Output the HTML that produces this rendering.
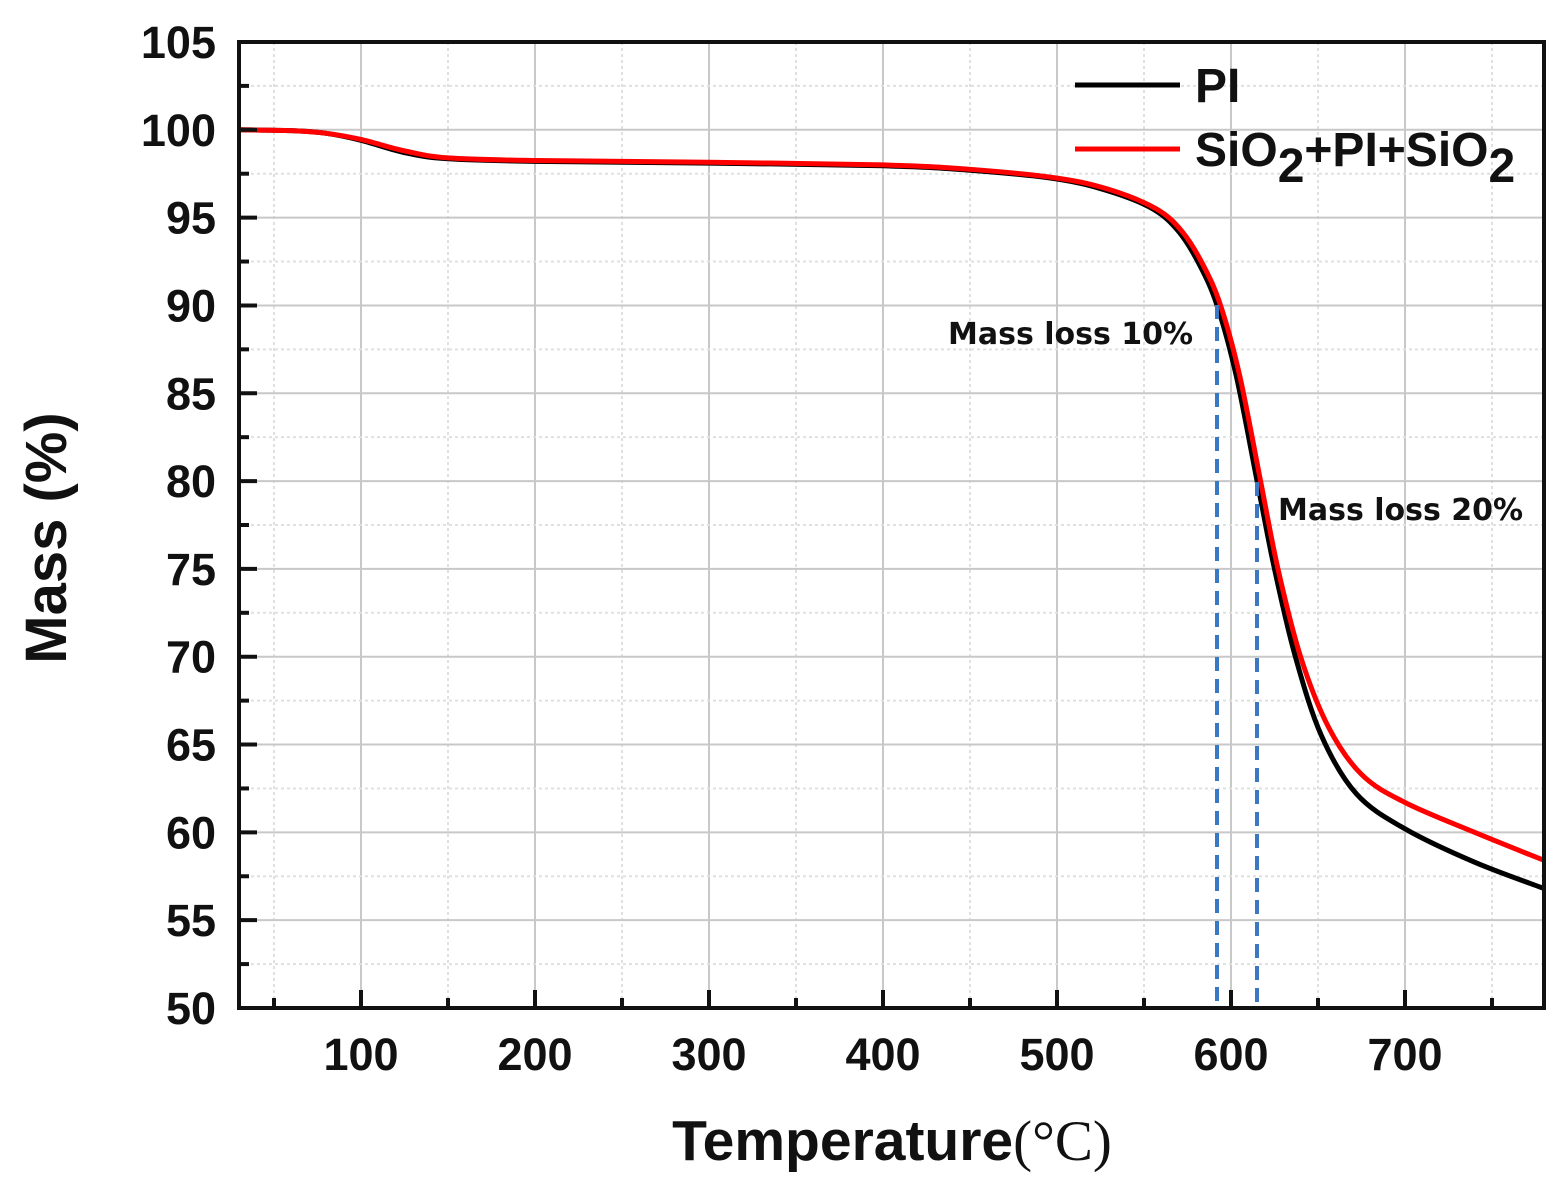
<!DOCTYPE html>
<html><head><meta charset="utf-8"><style>
html,body{margin:0;padding:0;background:#fff;}
svg{display:block;}
text{font-family:"Liberation Sans",Arial,sans-serif;font-weight:bold;fill:#111;}
</style></head><body>
<svg id="s" width="1566" height="1185" xmlns="http://www.w3.org/2000/svg">
<g id="grid"></g>
<path id="pi" fill="none" stroke="#000" stroke-width="5"/>
<path id="si" fill="none" stroke="#f00" stroke-width="5"/>
<line x1="1217" y1="305" x2="1217" y2="1008" stroke="#3a78c4" stroke-width="4" stroke-dasharray="14,8"/>
<line x1="1257" y1="482" x2="1257" y2="1008" stroke="#3a78c4" stroke-width="4" stroke-dasharray="14,8"/>
<rect x="239" y="42" width="1305" height="966" fill="none" stroke="#111" stroke-width="4"/>
<g id="ticks"></g>
<line x1="1075" y1="85" x2="1180" y2="85" stroke="#000" stroke-width="5"/>
<line x1="1075" y1="149" x2="1180" y2="149" stroke="#f00" stroke-width="5"/>
<text x="1195" y="102" font-size="48">PI</text>
<text x="1195" y="166" font-size="48">SiO<tspan dy="16">2</tspan><tspan dy="-16">+PI+SiO</tspan><tspan dy="16">2</tspan></text>
<text x="948" y="344" font-size="30" style="font-family:'DejaVu Sans',sans-serif">Mass loss 10%</text>
<text x="1278" y="520" font-size="30" style="font-family:'DejaVu Sans',sans-serif">Mass loss 20%</text>
<text transform="translate(66,538) rotate(-90)" text-anchor="middle" font-size="58">Mass (%)</text>
<text x="892" y="1160" text-anchor="middle" font-size="57">Temperature<tspan style="font-family:'Liberation Serif',serif;font-weight:normal">(°C)</tspan></text>
</svg>
<script>
const X=t=>361+(t-100)*1.74, Y=v=>1008-(v-50)*17.564;
const ns="http://www.w3.org/2000/svg";
function el(p,n,a,txt){const e=document.createElementNS(ns,n);for(const k in a)e.setAttribute(k,a[k]);if(txt!==undefined)e.textContent=txt;document.getElementById(p).appendChild(e);}
for(let t=50;t<=750;t+=50){const x=X(t),maj=t%100==0;
 el("grid","line",{x1:x,y1:42,x2:x,y2:1008,stroke:maj?"#c8c8c8":"#e0e0e0","stroke-width":2,"stroke-dasharray":maj?"":"3,3"});
 el("ticks","line",{x1:x,y1:1008,x2:x,y2:1008-(maj?18:10),stroke:"#111","stroke-width":4});
 if(maj)el("ticks","text",{x:x,y:1070,"text-anchor":"middle","font-size":45},t);}
for(let v=52.5;v<=105;v+=2.5){const y=Y(v),maj=v%5==0;
 if(v<105)el("grid","line",{x1:239,y1:y,x2:1544,y2:y,stroke:maj?"#c8c8c8":"#e0e0e0","stroke-width":2,"stroke-dasharray":maj?"":"3,3"});
 el("ticks","line",{x1:239,y1:y,x2:239+(maj?18:10),y2:y,stroke:"#111","stroke-width":4});}
for(let v=50;v<=105;v+=5)el("ticks","text",{x:216,y:Y(v)+16,"text-anchor":"end","font-size":45},v);
function path(pts){const P=pts.map(p=>[X(p[0]),Y(p[1])]);let d="M"+P[0][0]+","+P[0][1];
 for(let i=0;i<P.length-1;i++){const p0=P[i-1]||P[i],p1=P[i],p2=P[i+1],p3=P[i+2]||p2;
 d+=` C${p1[0]+(p2[0]-p0[0])/6},${p1[1]+(p2[1]-p0[1])/6} ${p2[0]-(p3[0]-p1[0])/6},${p2[1]-(p3[1]-p1[1])/6} ${p2[0]},${p2[1]}`;}return d;}
const pi=[[30,100],[60,99.95],[80,99.8],[100,99.4],[125,98.7],[150,98.35],[200,98.2],[300,98.1],[400,97.95],[450,97.7],[500,97.2],[530,96.5],[555,95.5],[570,94.2],[582,92.3],[592,90],[603,86],[615,80],[625,75],[637,70],[652,65.5],[672,62.2],[700,60.2],[740,58.3],[780,56.8]];
const si=[[30,100],[60,99.95],[80,99.8],[100,99.45],[125,98.8],[150,98.4],[200,98.25],[300,98.15],[400,98],[450,97.75],[500,97.25],[530,96.6],[557,95.5],[572,94.2],[584,92.3],[594,90],[605,86],[617,80],[627,75],[640,70],[656,66],[675,63.3],[700,61.7],[740,60],[780,58.4]];
document.getElementById("pi").setAttribute("d",path(pi));
document.getElementById("si").setAttribute("d",path(si));
</script>
</body></html>
